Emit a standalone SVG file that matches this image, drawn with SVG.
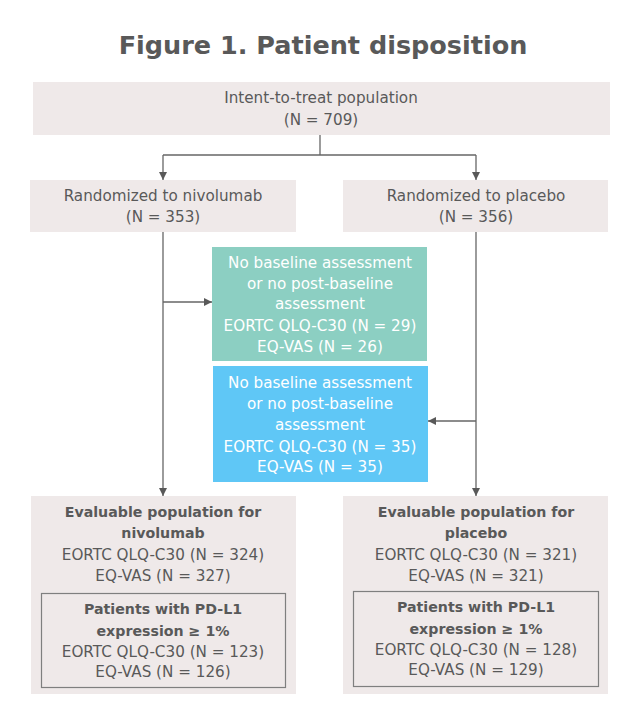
<svg xmlns="http://www.w3.org/2000/svg" width="629" height="712" viewBox="0 0 629 712">
<style>
.t{font-family:"DejaVu Sans","Liberation Sans",sans-serif;font-size:15.2px;fill:#595959;text-anchor:middle}
.b{font-weight:bold;font-size:14.2px}
.w{fill:#ffffff}
.box{fill:#efe9e9}
.inner{fill:none;stroke:#7f7f7f;stroke-width:1.2}
.ln{fill:none;stroke:#666666;stroke-width:1.3}
</style>
<defs>
<marker id="ah" viewBox="0 0 10 10" refX="10" refY="5" markerWidth="8" markerHeight="8" markerUnits="userSpaceOnUse" orient="auto">
<path d="M0,0 L10,5 L0,10 z" fill="#595959"/>
</marker>
</defs>
<rect width="629" height="712" fill="#ffffff"/>
<text x="323" y="54" style="font-family:'DejaVu Sans',sans-serif;font-weight:bold;font-size:25.5px;fill:#595959;text-anchor:middle">Figure 1. Patient disposition</text>

<g id="itt">
<rect class="box" x="33" y="82" width="577" height="53"/>
<text class="t" x="321" y="103">Intent-to-treat population</text>
<text class="t" x="321" y="125">(N = 709)</text>
</g>
<g id="rand-nivo">
<rect class="box" x="30" y="180" width="266" height="52"/>
<text class="t" x="163" y="201">Randomized to nivolumab</text>
<text class="t" x="163" y="222">(N = 353)</text>
</g>
<g id="rand-placebo">
<rect class="box" x="343" y="180" width="265" height="52"/>
<text class="t" x="476" y="201">Randomized to placebo</text>
<text class="t" x="476" y="222">(N = 356)</text>
</g>
<g id="excl-nivo">
<rect x="212" y="247" width="215" height="114" fill="#8ccfc2"/>
<text class="t w" x="320" y="268">No baseline assessment</text>
<text class="t w" x="320" y="289">or no post-baseline</text>
<text class="t w" x="320" y="309">assessment</text>
<text class="t w" x="320" y="331">EORTC QLQ-C30 (N = 29)</text>
<text class="t w" x="320" y="352">EQ-VAS (N = 26)</text>
</g>
<g id="excl-placebo">
<rect x="213" y="366" width="215" height="116" fill="#5fc7f6"/>
<text class="t w" x="320" y="388">No baseline assessment</text>
<text class="t w" x="320" y="409">or no post-baseline</text>
<text class="t w" x="320" y="430">assessment</text>
<text class="t w" x="320" y="452">EORTC QLQ-C30 (N = 35)</text>
<text class="t w" x="320" y="472">EQ-VAS (N = 35)</text>
</g>
<g id="eval-nivo">
<rect class="box" x="31" y="496" width="265" height="198"/>
<text class="t b" x="163" y="517">Evaluable population for</text>
<text class="t b" x="163" y="538">nivolumab</text>
<text class="t" x="163" y="560">EORTC QLQ-C30 (N = 324)</text>
<text class="t" x="163" y="581">EQ-VAS (N = 327)</text>
<rect class="inner" x="41.5" y="593.5" width="244" height="94"/>
<text class="t b" x="163" y="614">Patients with PD-L1</text>
<text class="t b" x="163" y="636">expression ≥ 1%</text>
<text class="t" x="163" y="657">EORTC QLQ-C30 (N = 123)</text>
<text class="t" x="163" y="677">EQ-VAS (N = 126)</text>
</g>
<g id="eval-placebo">
<rect class="box" x="343" y="496" width="265" height="198"/>
<text class="t b" x="476" y="517">Evaluable population for</text>
<text class="t b" x="476" y="538">placebo</text>
<text class="t" x="476" y="560">EORTC QLQ-C30 (N = 321)</text>
<text class="t" x="476" y="581">EQ-VAS (N = 321)</text>
<rect class="inner" x="353.5" y="591.5" width="245" height="95"/>
<text class="t b" x="476" y="612">Patients with PD-L1</text>
<text class="t b" x="476" y="634">expression ≥ 1%</text>
<text class="t" x="476" y="655">EORTC QLQ-C30 (N = 128)</text>
<text class="t" x="476" y="675">EQ-VAS (N = 129)</text>
</g>
<g id="connectors">
<path class="ln" d="M320,135 V155"/>
<path class="ln" d="M163,155 H476"/>
<path class="ln" d="M163,155 V180" marker-end="url(#ah)"/>
<path class="ln" d="M476,155 V180" marker-end="url(#ah)"/>
<path class="ln" d="M163,232 V496" marker-end="url(#ah)"/>
<path class="ln" d="M476,232 V496" marker-end="url(#ah)"/>
<path class="ln" d="M163,302 H212" marker-end="url(#ah)"/>
<path class="ln" d="M476,421 H428" marker-end="url(#ah)"/>
</g>
</svg>
